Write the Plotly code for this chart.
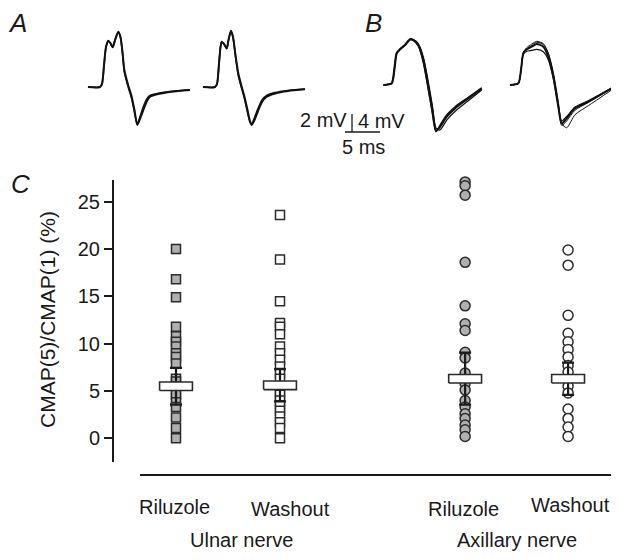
import plotly.graph_objects as go

# ======================= DATA =======================
# Panel C: CMAP(5)/CMAP(1) (%) per preparation
ulnar_riluzole = [20.0, 16.8, 14.9, 11.8, 10.8, 10.2, 9.7, 9.0, 8.6, 7.9, 6.3, 6.0,
                  5.5, 4.9, 4.6, 3.8, 3.3, 2.2, 1.1, 0.0]
ulnar_washout = [23.6, 18.9, 14.5, 12.2, 11.8, 11.0, 9.7, 9.0, 8.3, 7.6, 6.9, 6.3,
                 5.0, 4.6, 4.0, 3.5, 2.9, 2.3, 1.7, 1.1, 0.0]
axillary_riluzole = [27.1, 26.7, 25.7, 18.6, 14.0, 12.1, 11.4, 9.1, 8.5, 6.9, 5.8,
                     5.1, 4.0, 3.3, 2.6, 2.1, 1.4, 0.9, 0.2]
axillary_washout = [19.9, 18.3, 13.0, 11.1, 10.2, 9.4, 8.6, 7.7, 7.0, 5.5, 4.8,
                    3.1, 2.1, 1.2, 0.2]
group_means = [5.5, 5.6, 6.3, 6.3]
group_errors = [1.95, 1.7, 2.75, 1.7]
condition_labels = ["Riluzole", "Washout", "Riluzole", "Washout"]
nerve_labels = ["Ulnar nerve", "Axillary nerve"]
y_tick_values = [0, 5, 10, 15, 20, 25]
y_title = "CMAP(5)/CMAP(1) (%)"

# Panel A: ulnar CMAP traces (time ms, amplitude mV)
a_ril_t = [0, 1.71, 2.0, 2.29, 2.57, 2.9, 3.21, 3.53, 3.86, 4.33, 4.64, 4.93, 5.19, 5.53,
           5.86, 6.24, 6.64, 7.04, 7.43, 7.9, 8.43, 8.86, 10.04, 11.96, 14.57]
a_ril_v1 = [0, 0, 0.33, 2.44, 4.44, 5.14, 4.89, 4.44, 5.22, 6.14, 5.56, 3.89, 1.89, 0.78,
            -0.11, -1.08, -2.56, -4.22, -3.56, -2.56, -1.56, -1.08, -0.78, -0.52, -0.33]
a_ril_v2 = [0, 0, 0.33, 2.4, 4.4, 5.1, 4.85, 4.4, 5.2, 6.1, 5.5, 3.7, 1.7, 0.6,
            -0.3, -1.3, -2.8, -4.1, -3.3, -2.2, -1.3, -0.95, -0.7, -0.48, -0.3]
a_wash_t = [0, 1.71, 2.0, 2.29, 2.5, 2.67, 3.0, 3.39, 3.64, 4.0, 4.29, 4.64, 5.04, 5.5,
            5.93, 6.36, 6.71, 6.96, 7.36, 7.86, 8.43, 9.1, 10.29, 12.14, 14.57]
a_wash_v1 = [0, 0, 0.33, 2.67, 4.44, 5.03, 4.78, 4.3, 5.22, 6.26, 5.56, 3.56, 1.52, 0.11,
             -1.11, -2.56, -3.78, -4.22, -3.67, -2.67, -1.67, -1.08, -0.72, -0.44, -0.26]
a_wash_v2 = [0, 0, 0.33, 2.6, 4.4, 5.0, 4.75, 4.25, 5.2, 6.2, 5.5, 3.4, 1.3, -0.1,
             -1.3, -2.8, -3.9, -4.1, -3.4, -2.4, -1.45, -0.95, -0.62, -0.38, -0.22]

# Panel B: axillary CMAP traces (time ms, amplitude mV)
b_ril_t = [0, 1.2, 1.57, 1.91, 2.39, 3.1, 3.81, 4.29, 5.0, 5.71, 6.34, 7.0, 7.53, 8.1,
           9.06, 10.24, 12.14, 14.06]
b_ril_v1 = [0, 0.38, 3.33, 7.04, 7.93, 8.89, 10.16, 10.0, 8.89, 5.56, 0.38, -5.56,
            -10.22, -9.27, -7.04, -5.18, -2.96, -0.73]
b_ril_v2 = [0, 0.38, 3.33, 7.0, 7.9, 8.9, 10.0, 10.1, 9.2, 6.3, 1.5, -4.4, -9.6, -10.0,
            -7.8, -5.9, -3.5, -1.1]
b_ril_v3 = [0, 0.38, 3.4, 7.1, 8.0, 8.8, 10.1, 9.9, 8.6, 5.0, -0.3, -6.2, -10.4, -8.9,
            -6.6, -4.8, -2.7, -0.6]
b_wash_t = [0, 1.19, 1.57, 1.9, 2.39, 3.1, 3.81, 4.76, 5.47, 6.19, 6.9, 7.39, 8.1, 9.29,
            11.19, 14.53]
b_wash_v1 = [0, 0.38, 3.33, 7.04, 7.93, 8.52, 9.11, 8.52, 6.3, 1.85, -4.81, -8.52,
             -7.41, -5.18, -3.7, -0.73]
b_wash_v2 = [0, 0.38, 3.33, 7.2, 8.3, 9.1, 9.7, 9.2, 7.0, 2.3, -4.9, -9.0, -8.0, -5.6,
             -3.9, -0.8]
b_wash_v3 = [0, 0.38, 3.2, 6.8, 7.5, 7.7, 7.9, 7.4, 5.6, 1.4, -4.6, -8.0, -7.0, -4.9,
             -3.5, -0.7]
b_wash_v4 = [0, 0.38, 3.33, 7.1, 8.0, 8.8, 9.5, 9.0, 7.1, 2.8, -3.6, -8.6, -9.5, -6.6,
             -4.6, -1.1]

scale_time_ms = 5
scale_a_mv = 2
scale_b_mv = 4

# ======================= LAYOUT CONSTANTS =======================
OFF = 8                              # default page margin of the browser body
W, H = 619 - 2 * OFF, 560 - 2 * OFF  # figure size that fits the window without scrolling
FONT = "Liberation Sans, Arial, Helvetica, sans-serif"
INK = "#1a1a1a"
GREY = "#b0b0b0"

def fx(px):
    return (px - OFF) / W

def fy(py):
    return 1 - (py - OFF) / H

# panel C geometry
col_pos = [1, 2, 3.78, 4.77]
px_per_unit_x = 104.0
x_left_px, x_right_px, first_col_px = 140, 611, 176
x_range = [col_pos[0] - (first_col_px - x_left_px) / px_per_unit_x,
           col_pos[0] + (x_right_px - first_col_px) / px_per_unit_x]
y0_px, px_per_val = 438.3, 9.46
y_top_px, y_bot_px = 180, 462
y_range = [-(y_bot_px - y0_px) / px_per_val, (y0_px - y_top_px) / px_per_val]

# panel A/B geometry (px per ms, px per mV)
px_ms = 7.0
px_mv_a = 9.0
px_mv_b = 4.5
top_h = 160
a_base_px, b_base_px = 87, 85
a_starts_px = [88, 203]
b_starts_px = [383.3, 510]

fig = go.Figure()

# ---------- Panel C points ----------
series = [ulnar_riluzole, ulnar_washout, axillary_riluzole, axillary_washout]
symbols = ["square", "square", "circle", "circle"]
fills = [GREY, "white", GREY, "white"]
sizes = [9, 9, 10, 10]
for pos, vals, sym, fc, sz in zip(col_pos, series, symbols, fills, sizes):
    fig.add_trace(go.Scatter(
        x=[pos] * len(vals), y=vals, mode="markers", cliponaxis=False,
        marker=dict(symbol=sym, size=sz, color=fc, line=dict(color="#2b2b2b", width=1.5)),
        showlegend=False, hoverinfo="skip"))

# error bars
fig.add_trace(go.Scatter(
    x=col_pos, y=group_means, mode="markers",
    marker=dict(size=2, color="rgba(0,0,0,0)"),
    error_y=dict(type="data", array=group_errors, symmetric=True,
                 width=6, thickness=2.2, color=INK),
    showlegend=False, hoverinfo="skip"))

# mean boxes
half_w, half_h = 0.158, 0.45
bx, by = [], []
for pos, m in zip(col_pos, group_means):
    bx += [pos - half_w, pos + half_w, pos + half_w, pos - half_w, pos - half_w, None]
    by += [m - half_h, m - half_h, m + half_h, m + half_h, m - half_h, None]
fig.add_trace(go.Scatter(x=bx, y=by, mode="lines", fill="toself", fillcolor="white",
                         line=dict(color="#2b2b2b", width=1.6),
                         showlegend=False, hoverinfo="skip"))

# ---------- Panel A / B traces ----------
def add_wave(t, v, start_px, yaxis, width):
    off = start_px / px_ms
    fig.add_trace(go.Scatter(
        x=[ti + off for ti in t], y=v, mode="lines", xaxis="x2", yaxis=yaxis,
        line=dict(color="#111111", width=width, shape="spline", smoothing=0.7),
        showlegend=False, hoverinfo="skip"))

add_wave(a_ril_t, a_ril_v2, a_starts_px[0], "y2", 1.6)
add_wave(a_ril_t, a_ril_v1, a_starts_px[0], "y2", 2.0)
add_wave(a_wash_t, a_wash_v2, a_starts_px[1], "y2", 1.6)
add_wave(a_wash_t, a_wash_v1, a_starts_px[1], "y2", 2.0)

add_wave(b_ril_t, b_ril_v2, b_starts_px[0], "y3", 1.2)
add_wave(b_ril_t, b_ril_v3, b_starts_px[0], "y3", 1.2)
add_wave(b_ril_t, b_ril_v1, b_starts_px[0], "y3", 2.2)
add_wave(b_wash_t, b_wash_v4, b_starts_px[1], "y3", 1.0)
add_wave(b_wash_t, b_wash_v2, b_starts_px[1], "y3", 1.0)
add_wave(b_wash_t, b_wash_v3, b_starts_px[1], "y3", 1.2)
add_wave(b_wash_t, b_wash_v1, b_starts_px[1], "y3", 2.0)

# ---------- Scale bar (in panel A units) ----------
bar_v_x = 352 / px_ms
bar_h_x0 = 345 / px_ms
bar_y0 = (a_base_px - 132) / px_mv_a
fig.add_trace(go.Scatter(
    x=[bar_v_x, bar_v_x, None, bar_h_x0, bar_h_x0 + scale_time_ms],
    y=[bar_y0 + scale_a_mv, bar_y0, None, bar_y0, bar_y0],
    mode="lines", xaxis="x2", yaxis="y2",
    line=dict(color=INK, width=1.3), showlegend=False, hoverinfo="skip"))

fig.update_layout(
    width=W, height=H,
    margin=dict(l=0, r=0, t=0, b=0),
    paper_bgcolor="white", plot_bgcolor="white",
    font=dict(family=FONT, size=20, color=INK),
    showlegend=False,
    xaxis=dict(domain=[fx(x_left_px), fx(x_right_px)], range=x_range,
               anchor="free", position=fy(475), showline=True, linecolor=INK,
               linewidth=1.5, ticks="", showticklabels=False, showgrid=False,
               zeroline=False, fixedrange=True),
    yaxis=dict(domain=[fy(y_bot_px), fy(y_top_px)], range=y_range,
               anchor="free", position=fx(113), showline=True, linecolor=INK,
               linewidth=2, ticks="outside", ticklen=8, tickwidth=1.5, tickcolor=INK,
               tickvals=y_tick_values, tickfont=dict(size=20, family=FONT, color=INK),
               showgrid=False, zeroline=False, fixedrange=True),
    xaxis2=dict(domain=[0, 1], range=[OFF / px_ms, (OFF + W) / px_ms], visible=False,
                anchor="y2", fixedrange=True),
    yaxis2=dict(domain=[fy(top_h), 1],
                range=[-(top_h - a_base_px) / px_mv_a, (a_base_px - OFF) / px_mv_a],
                visible=False, anchor="x2", fixedrange=True),
    yaxis3=dict(domain=[fy(top_h), 1],
                range=[-(top_h - b_base_px) / px_mv_b, (b_base_px - OFF) / px_mv_b],
                visible=False, anchor="x2", overlaying="y2", fixedrange=True),
)

ann = []
# panel letters
for letter, x, y in [("A", 17, 23), ("B", 373, 23), ("C", 20, 184)]:
    ann.append(dict(text=f"<i>{letter}</i>", x=fx(x), y=fy(y), xref="paper", yref="paper",
                    showarrow=False, font=dict(size=26, family=FONT, color=INK),
                    xanchor="center", yanchor="middle"))
# scale-bar labels
ann.append(dict(text=f"{scale_a_mv} mV", x=fx(349), y=fy(120), xref="paper", yref="paper",
                showarrow=False, xanchor="right", yanchor="middle", font=dict(size=20)))
ann.append(dict(text=f"{scale_b_mv} mV", x=fx(356), y=fy(121), xref="paper", yref="paper",
                showarrow=False, xanchor="left", yanchor="middle", font=dict(size=20)))
ann.append(dict(text=f"{scale_time_ms} ms", x=fx(363), y=fy(147), xref="paper", yref="paper",
                showarrow=False, xanchor="center", yanchor="middle", font=dict(size=20)))
# y title
ann.append(dict(text=y_title, x=fx(47), y=fy(320), xref="paper", yref="paper",
                textangle=-90, showarrow=False, xanchor="center", yanchor="middle",
                font=dict(size=21)))
# condition labels
label_shift = [-2, 10, -2, 2]
label_y = [507, 509, 509, 505]
for pos, lab, sh, ly in zip(col_pos, condition_labels, label_shift, label_y):
    ann.append(dict(text=lab, x=pos, xref="x", y=fy(ly), yref="paper", xshift=sh,
                    showarrow=False, xanchor="center", yanchor="middle", font=dict(size=20)))
# nerve labels
nerve_x = [(col_pos[0] + col_pos[1]) / 2, (col_pos[2] + col_pos[3]) / 2]
for nx, lab, sh in zip(nerve_x, nerve_labels, [13, 0]):
    ann.append(dict(text=lab, x=nx, xref="x", y=fy(540), yref="paper", xshift=sh,
                    showarrow=False, xanchor="center", yanchor="middle", font=dict(size=20)))
fig.update_layout(annotations=ann)

fig.write_html("out.html")
